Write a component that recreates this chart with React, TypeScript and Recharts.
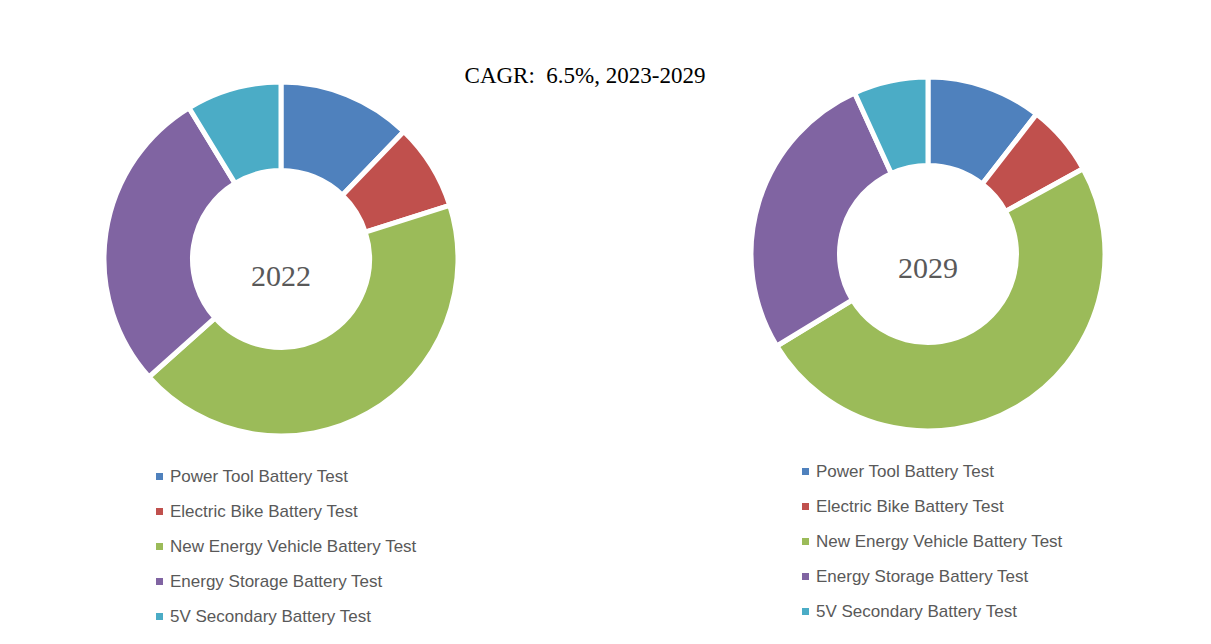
import React from "react";
import { PieChart, Pie, Cell, Label } from "recharts";

const categories = [
  "Power Tool Battery Test",
  "Electric Bike Battery Test",
  "New Energy Vehicle Battery Test",
  "Energy Storage Battery Test",
  "5V Secondary Battery Test",
];
const values2022 = [12.2, 7.9, 43.3, 27.9, 8.7];
const values2029 = [10.5, 6.5, 49.3, 26.9, 6.8];
const colors = ["#4F81BD", "#C0504D", "#9BBB59", "#8064A2", "#4BACC6"];
const titleText = "CAGR:  6.5%, 2023-2029";

const data2022 = categories.map((name, i) => ({ name, value: values2022[i] }));
const data2029 = categories.map((name, i) => ({ name, value: values2029[i] }));

function LegendList({ left, top }: any) {
  return (
    <div style={{ position: "absolute", left, top }}>
      {categories.map((name, i) => (
        <div
          key={i}
          style={{
            height: 35,
            display: "flex",
            alignItems: "center",
            fontFamily: "'Liberation Sans', Arial, sans-serif",
            fontSize: 17,
            color: "#595959",
            whiteSpace: "nowrap",
          }}
        >
          <span
            style={{
              display: "inline-block",
              width: 7,
              height: 7,
              background: colors[i],
              marginRight: 7,
            }}
          />
          <span>{name}</span>
        </div>
      ))}
    </div>
  );
}

function Donut({ data, left, cx, cy, label, labelDy, legendLeft, legendTop }: any) {
  return (
    <div style={{ position: "absolute", left, top: 0, width: 600, height: 644 }}>
      <PieChart width={600} height={644} margin={{ top: 0, right: 0, bottom: 0, left: 0 }}>
        <Pie
          data={data}
          dataKey="value"
          nameKey="name"
          cx={cx}
          cy={cy}
          innerRadius={88.5}
          outerRadius={177}
          startAngle={90}
          endAngle={-270}
          stroke="#ffffff"
          strokeWidth={5}
          isAnimationActive={false}
        >
          {data.map((_: any, i: number) => (
            <Cell key={i} fill={colors[i]} />
          ))}
          <Label
            position="center"
            content={() => (
              <text
                x={cx}
                y={cy + labelDy}
                textAnchor="middle"
                dominantBaseline="central"
                fontFamily="'Liberation Serif', 'Times New Roman', serif"
                fontSize={30}
                fill="#595959"
              >
                {label}
              </text>
            )}
          />
        </Pie>
      </PieChart>
      <LegendList left={legendLeft} top={legendTop} />
    </div>
  );
}

export default function App() {
  return (
    <div
      style={{
        position: "absolute",
        left: 0,
        top: 0,
        width: 1211,
        height: 644,
        background: "#ffffff",
        overflow: "hidden",
      }}
    >
      <div
        style={{
          position: "absolute",
          left: 0,
          width: 1170,
          top: 63,
          textAlign: "center",
          fontFamily: "'Liberation Serif', 'Times New Roman', serif",
          fontSize: 23,
          color: "#000",
          whiteSpace: "pre",
        }}
      >
        {titleText}
      </div>
      <Donut
        data={data2022}
        left={0}
        cx={281}
        cy={259}
        label="2022"
        labelDy={16}
        legendLeft={156}
        legendTop={459}
      />
      <Donut
        data={data2029}
        left={600}
        cx={328}
        cy={254}
        label="2029"
        labelDy={13}
        legendLeft={202}
        legendTop={454}
      />
    </div>
  );
}
